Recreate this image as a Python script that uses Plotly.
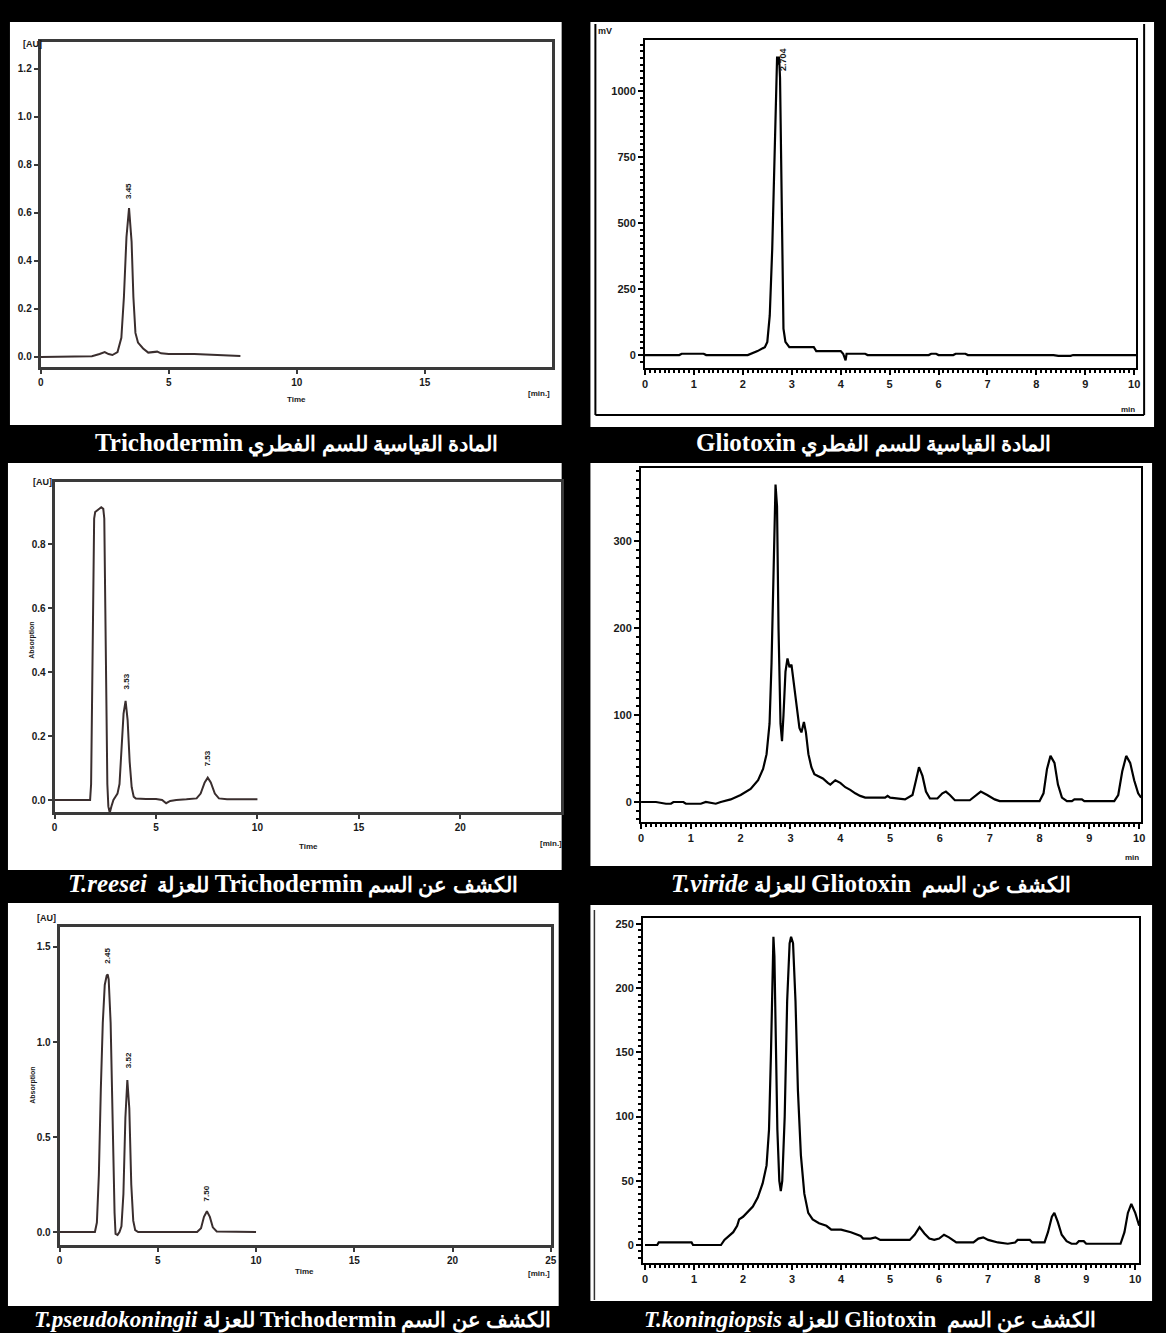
import plotly.graph_objects as go

W, H = 1166, 1333
def px(x): return x / W
def py(y): return 1 - y / H

# ---------------- data ----------------
# Panel 1: Trichodermin standard
t1 = [0, 1.5, 2.0, 2.3, 2.5, 2.65, 2.8, 3.0, 3.15, 3.25, 3.35, 3.45, 3.55, 3.62, 3.7, 3.8, 4.0, 4.2, 4.4, 4.55, 4.7, 5.0, 6.0, 7.0, 7.8]
v1 = [0.0, 0.0, 0.003, 0.012, 0.02, 0.012, 0.008, 0.02, 0.08, 0.25, 0.5, 0.62, 0.48, 0.25, 0.1, 0.06, 0.035, 0.018, 0.02, 0.022, 0.015, 0.012, 0.012, 0.006, 0.004]
# Panel 2: Gliotoxin standard
t2 = [0, 0.7, 0.75, 1.2, 1.25, 2.1, 2.3, 2.45, 2.5, 2.55, 2.6, 2.65, 2.68, 2.7, 2.72, 2.74, 2.76, 2.78, 2.8, 2.83, 2.87, 2.95, 3.45, 3.5, 4.0, 4.05, 4.1, 4.12, 4.5, 4.55, 5.8, 5.85, 5.95, 6.0, 6.3, 6.35, 6.55, 6.6, 8.35, 8.45, 8.7, 8.75, 10.04]
v2 = [0, 0, 5, 5, 0, 0, 15, 30, 50, 150, 400, 800, 1050, 1130, 1100, 1130, 1050, 800, 400, 100, 50, 30, 30, 15, 15, 5, -20, 5, 5, 0, 0, 5, 5, 0, 0, 5, 5, 0, 0, -3, -3, 0, 0]
# Panel 3: T.reesei Trichodermin
t3 = [0, 1.75, 1.8, 1.85, 1.9, 1.95, 2.0, 2.1, 2.2, 2.3, 2.4, 2.45, 2.5, 2.55, 2.6, 2.65, 2.72, 2.8, 2.9, 3.0, 3.1, 3.2, 3.3, 3.4, 3.5, 3.6, 3.7, 3.8, 3.9, 4.0, 4.5, 5.0, 5.3, 5.5, 5.7, 6.0, 6.5, 7.0, 7.2, 7.4, 7.55, 7.7, 7.9, 8.1, 8.5, 10.0]
v3 = [0, 0, 0.05, 0.3, 0.7, 0.88, 0.9, 0.905, 0.91, 0.915, 0.91, 0.88, 0.6, 0.25, 0.05, -0.02, -0.04, -0.02, 0.0, 0.01, 0.02, 0.05, 0.15, 0.27, 0.31, 0.25, 0.12, 0.04, 0.01, 0.005, 0.003, 0.003, 0.0, -0.01, -0.003, 0.0, 0.002, 0.005, 0.02, 0.055, 0.07, 0.055, 0.02, 0.005, 0.002, 0.002]
# Panel 4: T.viride Gliotoxin
t4 = [0, 0.3, 0.5, 0.6, 0.65, 0.85, 0.9, 1.2, 1.3, 1.5, 1.6, 1.8, 2.0, 2.2, 2.35, 2.45, 2.52, 2.58, 2.62, 2.66, 2.7, 2.73, 2.76, 2.8, 2.83, 2.86, 2.9, 2.94, 2.98, 3.02, 3.06, 3.12, 3.18, 3.22, 3.27, 3.31, 3.36, 3.42, 3.48, 3.55, 3.65, 3.75, 3.8, 3.9, 4.0, 4.1, 4.2, 4.3, 4.4, 4.5, 4.9, 4.95, 5.0, 5.3, 5.45, 5.52, 5.58, 5.65, 5.72, 5.8, 5.95, 6.05, 6.12, 6.2, 6.3, 6.6, 6.72, 6.82, 6.95, 7.1, 7.2, 8.0, 8.08, 8.15, 8.22, 8.3, 8.37, 8.45, 8.55, 8.65, 8.7, 8.85, 8.9, 9.5, 9.58, 9.66, 9.74, 9.82, 9.9, 9.98, 10.04]
v4 = [0, 0, -2, -2, 0, 0, -2, -2, 0, -2, 0, 3, 8, 15, 25, 38, 55, 90, 160, 280, 365, 340, 200, 90, 70, 100, 150, 165, 155, 158, 140, 110, 85, 80, 92, 80, 55, 40, 32, 30, 27, 22, 20, 25, 22, 17, 14, 10, 7, 5, 5, 7, 5, 3, 8, 25, 40, 30, 12, 4, 4, 10, 12, 8, 2, 2, 8, 12, 8, 3, 1, 1, 10, 38, 53, 45, 20, 5, 1, 1, 3, 3, 1, 1, 8, 35, 53, 45, 25, 10, 5]
# Panel 5: T.pseudokoningii Trichodermin
t5 = [0, 1.8, 1.9, 2.0, 2.1, 2.2, 2.3, 2.4, 2.45, 2.5, 2.6, 2.7, 2.8, 2.85, 2.95, 3.05, 3.15, 3.25, 3.35, 3.45, 3.55, 3.65, 3.75, 3.85, 4.0, 7.0, 7.2, 7.35, 7.5, 7.65, 7.8, 8.0, 10.0]
v5 = [0, 0, 0.05, 0.3, 0.75, 1.1, 1.3, 1.35, 1.355, 1.33, 1.1, 0.55, 0.1, -0.01, -0.015, 0.0, 0.03, 0.2, 0.6, 0.8, 0.65, 0.25, 0.06, 0.01, 0.0, 0.0, 0.02, 0.08, 0.11, 0.08, 0.025, 0.003, 0.0]
# Panel 6: T.koningiopsis Gliotoxin
t6 = [0, 0.25, 0.28, 0.95, 0.98, 1.55, 1.62, 1.7, 1.8, 1.88, 1.92, 2.0, 2.1, 2.2, 2.3, 2.4, 2.48, 2.53, 2.57, 2.6, 2.62, 2.64, 2.67, 2.7, 2.74, 2.77, 2.8, 2.85, 2.9, 2.95, 2.98, 3.02, 3.07, 3.12, 3.18, 3.25, 3.33, 3.42, 3.55, 3.7, 3.8, 4.0, 4.2, 4.4, 4.45, 4.6, 4.7, 4.8, 5.4, 5.5, 5.6, 5.7, 5.8, 5.9, 6.0, 6.1, 6.2, 6.35, 6.7, 6.8, 6.9, 7.0, 7.2, 7.4, 7.55, 7.6, 7.85, 7.9, 8.15, 8.22, 8.3, 8.35, 8.42, 8.5, 8.6, 8.7, 8.8, 8.85, 8.95, 9.0, 9.7, 9.78, 9.85, 9.92, 10.0, 10.08]
v6 = [0, 0, 2, 2, 0, 0, 4, 7, 10, 15, 20, 22, 26, 30, 37, 48, 62, 90, 150, 220, 240, 225, 150, 90, 50, 42, 50, 100, 190, 235, 240, 235, 190, 120, 70, 40, 25, 20, 17, 15, 12, 12, 10, 7, 5, 5, 6, 4, 4, 8, 14, 9, 5, 4, 5, 8, 6, 2, 2, 5, 6, 4, 2, 1, 2, 4, 4, 2, 2, 10, 22, 25, 18, 8, 3, 1, 1, 3, 3, 1, 1, 10, 25, 32, 25, 15]

# tick values
tri_x_ticks = [0, 5, 10, 15, 20, 25]
p1_y_ticks = [0.0, 0.2, 0.4, 0.6, 0.8, 1.0, 1.2]
p3_y_ticks = [0.0, 0.2, 0.4, 0.6, 0.8]
p5_y_ticks = [0.0, 0.5, 1.0, 1.5]
glio_x_ticks = [0, 1, 2, 3, 4, 5, 6, 7, 8, 9, 10]
p2_y_ticks = [0, 250, 500, 750, 1000]
p4_y_ticks = [0, 100, 200, 300]
p6_y_ticks = [0, 50, 100, 150, 200, 250]

L = '<span style="font-size:%dpx">%s</span>'
captions = [
    (L % (25, "Trichodermin")) + " المادة القياسية للسم الفطري",
    (L % (25, "Gliotoxin")) + " المادة القياسية للسم الفطري",
    (L % (25, "<i>T.reesei</i>")) + "  للعزلة " + (L % (25, "Trichodermin")) + " الكشف عن السم",
    (L % (25, "<i>T.viride</i>")) + " للعزلة " + (L % (25, "Gliotoxin")) + "  الكشف عن السم",
    (L % (23, "<i>T.pseudokoningii</i>")) + " للعزلة " + (L % (23, "Trichodermin")) + " الكشف عن السم",
    (L % (23, "<i>T.koningiopsis</i>")) + " للعزلة " + (L % (23, "Gliotoxin")) + "  الكشف عن السم",
]

# ---------------- layout geometry (pixels) ----------------
boxes = {
    1: dict(l=38, r=553, t=42, b=367, xr=[0, 19.96], yr=[-0.042, 1.3125]),
    2: dict(l=647, r=1142, t=40, b=368, xr=[0, 10.04], yr=[-49, 1193]),
    3: dict(l=52, r=562, t=482, b=812, xr=[0, 24.95], yr=[-0.0375, 0.994]),
    4: dict(l=643, r=1147, t=468, b=822, xr=[0, 10.04], yr=[-23, 384]),
    5: dict(l=57, r=552, t=927, b=1245, xr=[0, 25.0], yr=[-0.068, 1.605]),
    6: dict(l=645, r=1145, t=918, b=1263, xr=[-0.04, 10.08], yr=[-14, 254.7]),
}
whites = [(7, 563, 22, 425), (592, 1160, 22, 427), (5, 563, 463, 870),
          (592, 1158, 463, 866), (5, 560, 903, 1306), (592, 1158, 905, 1301)]
cap_pos = [(296, 443), (877, 443), (292, 884), (875, 884), (292, 1320), (874, 1320)]

data = {1: (t1, v1), 2: (t2, v2), 3: (t3, v3), 4: (t4, v4), 5: (t5, v5), 6: (t6, v6)}
glio = {2, 4, 6}

fig = go.Figure()
tickfont = dict(family="Liberation Sans Narrow, Liberation Sans, Arial, sans-serif", size=10, color="#1a1a1a", weight="bold")

layout = dict(width=W, height=H, autosize=False, paper_bgcolor="black", plot_bgcolor="white",
              margin=dict(l=0, r=0, t=0, b=0), showlegend=False)

for i in range(1, 7):
    b = boxes[i]
    xs = "" if i == 1 else str(i)
    t, v = data[i]
    if i in glio:
        line = dict(color="black", width=2.2)
    else:
        line = dict(color="#3a2e2e", width=2)
    fig.add_trace(go.Scatter(x=t, y=v, mode="lines", line=line, xaxis="x" + xs, yaxis="y" + xs,
                             hoverinfo="skip"))
    if i in glio:
        lc, lw = "black", 2
        xax = dict(tickvals=glio_x_ticks, ticktext=[str(k) for k in glio_x_ticks],
                   minor=dict(ticks="outside", ticklen=3, tickwidth=1.5, tickcolor="black", dtick=0.1, tick0=0))
        yt = {2: p2_y_ticks, 4: p4_y_ticks, 6: p6_y_ticks}[i]
        ymd = {2: 25, 4: 10, 6: 5}[i]
        yax = dict(tickvals=yt, ticktext=[str(k) for k in yt],
                   minor=dict(ticks="outside", ticklen=3, tickwidth=1.5, tickcolor="black", dtick=ymd, tick0=0))
        tl = 5
        tf = dict(tickfont); tf["size"] = 11
    else:
        lc, lw = "#3a3a3a", 3
        xt = tri_x_ticks[:5] if i == 1 else tri_x_ticks
        xax = dict(tickvals=xt, ticktext=[str(k) for k in xt])
        yt = {1: p1_y_ticks, 3: p3_y_ticks, 5: p5_y_ticks}[i]
        yax = dict(tickvals=yt, ticktext=["%.1f" % k for k in yt])
        tl = 4
        tf = tickfont
    common = dict(showline=True, linecolor=lc, linewidth=lw, mirror=True, ticks="outside",
                  ticklen=tl, tickwidth=2, tickcolor=lc, showgrid=False, zeroline=False,
                  tickfont=tf, fixedrange=True)
    xax.update(common, domain=[px(b["l"]), px(b["r"])], range=b["xr"], anchor="y" + xs)
    yax.update(common, domain=[py(b["b"]), py(b["t"])], range=b["yr"], anchor="x" + xs)
    layout["xaxis" + xs] = xax
    layout["yaxis" + xs] = yax

shapes = []
for (l, r, t, bb) in whites:
    shapes.append(dict(type="rect", xref="paper", yref="paper", x0=px(l), x1=px(r), y0=py(bb), y1=py(t),
                       fillcolor="white", line=dict(width=0), layer="below"))
for (x0, y0, x1, y1) in [(597, 24, 597, 415), (597, 415, 1150, 415), (1150, 24, 1150, 415)]:
    shapes.append(dict(type="line", xref="paper", yref="paper", x0=px(x0), x1=px(x1), y0=py(y0), y1=py(y1),
                       line=dict(color="black", width=2)))
shapes.append(dict(type="line", xref="paper", yref="paper", x0=px(596), x1=px(596), y0=py(910), y1=py(1300),
                   line=dict(color="#333", width=1.5)))
layout["shapes"] = shapes

ann = []
capfont = dict(family="Liberation Serif, Times New Roman, serif", size=21, color="white", weight="bold")
for txt, (cx, cy) in zip(captions, cap_pos):
    ann.append(dict(text=txt, x=px(cx), y=py(cy), xref="paper", yref="paper", showarrow=False,
                    xanchor="center", yanchor="middle", font=capfont))

small = dict(family="Liberation Sans Narrow, Liberation Sans, Arial, sans-serif", size=9, color="#1a1a1a", weight="bold")
def pann(txt, x, y, i, size=8):
    xs = "" if i == 1 else str(i)
    f = dict(small); f["size"] = size
    ann.append(dict(text=txt, x=x, y=y, xref="x" + xs, yref="y" + xs, showarrow=False, textangle=-90,
                    xanchor="center", yanchor="bottom", font=f))
pann("3.45", 3.45, 0.65, 1)
pann("2.704", 2.82, 1070, 2, 9)
pann("3.53", 3.53, 0.34, 3)
pann("7.53", 7.53, 0.10, 3)
pann("2.45", 2.45, 1.40, 5)
pann("3.52", 3.52, 0.85, 5)
pann("7.50", 7.50, 0.15, 5)

def pa(txt, x, y, size=9, angle=0, xa="center"):
    f = dict(small); f["size"] = size
    ann.append(dict(text=txt, x=px(x), y=py(y), xref="paper", yref="paper", showarrow=False,
                    textangle=angle, xanchor=xa, yanchor="middle", font=f))
pa("[AU]", 30, 44, 9)
pa("Time", 296, 399, 8)
pa("[min.]", 540, 394, 8)
pa("mV", 607, 31, 9)
pa("min", 1134, 409, 8)
pa("[AU]", 40, 482, 9)
pa("Absorption", 29, 640, 7, -90)
pa("Time", 308, 847, 8)
pa("[min.]", 552, 843, 8)
pa("min", 1138, 857, 8)
pa("[AU]", 44, 918, 9)
pa("Absorption", 30, 1085, 7, -90)
pa("Time", 304, 1271, 8)
pa("[min.]", 540, 1273, 8)
layout["annotations"] = ann

fig.update_layout(**layout)
fig.write_html("out.html", config={"displayModeBar": False},
               post_script="document.body.style.margin='0';document.body.style.background='black';")
